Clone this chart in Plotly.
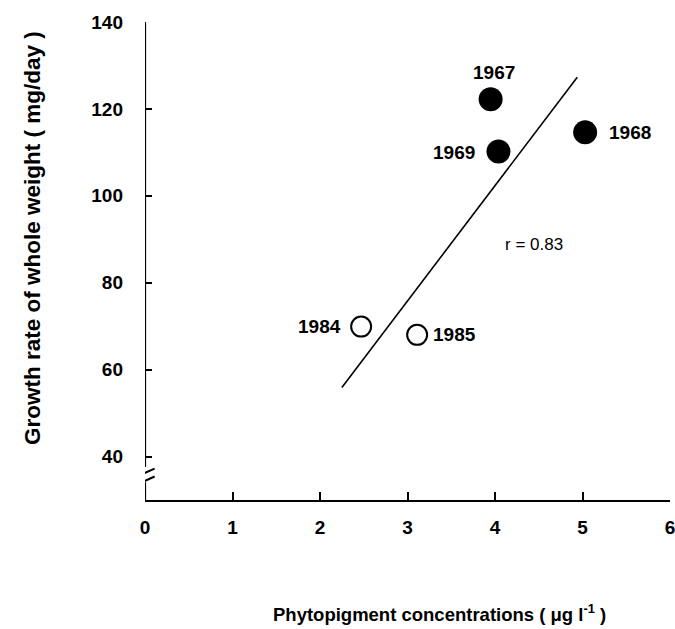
import plotly.graph_objects as go

# Data
years_filled = ["1967", "1968", "1969"]
x_filled = [3.95, 5.03, 4.04]
y_filled = [122.2, 114.6, 110.2]

years_open = ["1984", "1985"]
x_open = [2.47, 3.11]
y_open = [69.9, 68.0]

fit_x = [2.25, 4.94]
fit_y = [55.9, 127.3]

x_ticks = [0, 1, 2, 3, 4, 5, 6]
y_ticks = [40, 60, 80, 100, 120, 140]
r_text = "r = 0.83"

FONT = "Liberation Sans Narrow, Arial Narrow, Liberation Sans, Arial, sans-serif"

fig = go.Figure()

fig.add_trace(go.Scatter(x=fit_x, y=fit_y, mode="lines",
                         line=dict(color="black", width=1.6),
                         showlegend=False, hoverinfo="skip"))
fig.add_trace(go.Scatter(x=x_filled, y=y_filled, mode="markers",
                         marker=dict(size=24, color="black", line=dict(width=0)),
                         showlegend=False))
fig.add_trace(go.Scatter(x=x_open, y=y_open, mode="markers",
                         marker=dict(size=20, color="white", line=dict(width=2, color="black")),
                         showlegend=False))

label_pos = {
    "1967": dict(xanchor="center", yanchor="middle", xshift=3, yshift=27),
    "1968": dict(xanchor="left", yanchor="middle", xshift=22, yshift=0),
    "1969": dict(xanchor="right", yanchor="middle", xshift=-22, yshift=-1),
    "1984": dict(xanchor="right", yanchor="middle", xshift=-18, yshift=0),
    "1985": dict(xanchor="left", yanchor="middle", xshift=14, yshift=0),
}
annotations = []
for yr, xv, yv in list(zip(years_filled, x_filled, y_filled)) + list(zip(years_open, x_open, y_open)):
    p = label_pos[yr]
    annotations.append(dict(x=xv, y=yv, xref="x", yref="y", text=yr, showarrow=False,
                            font=dict(family=FONT, size=19, color="black", weight="bold"),
                            **p))
annotations.append(dict(x=4.44, y=88.7, xref="x", yref="y", text=r_text, showarrow=False,
                        font=dict(family=FONT, size=17, color="black"),
                        xanchor="center", yanchor="middle"))
annotations.append(dict(x=(439 - 145) / 525, y=-(613 - 500) / 478, xref="paper", yref="paper",
                        text="Phytopigment concentrations ( μg l<sup>-1</sup> )", showarrow=False,
                        font=dict(family=FONT, size=18.5, color="black", weight="bold"),
                        xanchor="center", yanchor="middle"))
annotations.append(dict(x=-(145 - 33) / 525, y=(500 - 238) / 478, xref="paper", yref="paper",
                        text="Growth rate of whole weight ( mg/day )", showarrow=False,
                        textangle=-90,
                        font=dict(family=FONT, size=22.5, color="black", weight="bold"),
                        xanchor="center", yanchor="middle"))

# y-axis line with break
shapes = [
    dict(type="line", xref="x", yref="y", x0=0, x1=0, y0=140, y1=37.6,
         line=dict(color="black", width=2.2)),
    dict(type="line", xref="x", yref="y", x0=0, x1=0, y0=34.1, y1=30,
         line=dict(color="black", width=2.2)),
    dict(type="line", xref="x", yref="y", x0=-0.07, x1=0.11, y0=35.6, y1=37.2,
         line=dict(color="black", width=2)),
    dict(type="line", xref="x", yref="y", x0=-0.07, x1=0.11, y0=33.8, y1=35.4,
         line=dict(color="black", width=2)),
]

fig.update_layout(
    width=675, height=629,
    margin=dict(l=145, r=5, t=22, b=129, autoexpand=False),
    paper_bgcolor="white", plot_bgcolor="white",
    annotations=annotations, shapes=shapes,
    font=dict(family=FONT, color="black"),
    xaxis=dict(range=[0, 6], tickvals=x_ticks, ticktext=[str(v) for v in x_ticks],
               automargin=False,
               showgrid=False, zeroline=False, showline=True, linecolor="black", linewidth=2.2,
               ticks="inside", ticklen=8, tickwidth=2, tickcolor="black",
               ticklabelstandoff=9, ticklabeloverflow="allow",
               tickfont=dict(family=FONT, size=19, color="black", weight="bold")),
    yaxis=dict(range=[30, 140], tickvals=y_ticks, ticktext=[str(v) for v in y_ticks],
               automargin=False,
               showgrid=False, zeroline=False, showline=False,
               ticks="inside", ticklen=7, tickwidth=2, tickcolor="black",
               ticklabelstandoff=21, ticklabeloverflow="allow",
               tickfont=dict(family=FONT, size=19, color="black", weight="bold")),
)

fig.write_html("out.html")
